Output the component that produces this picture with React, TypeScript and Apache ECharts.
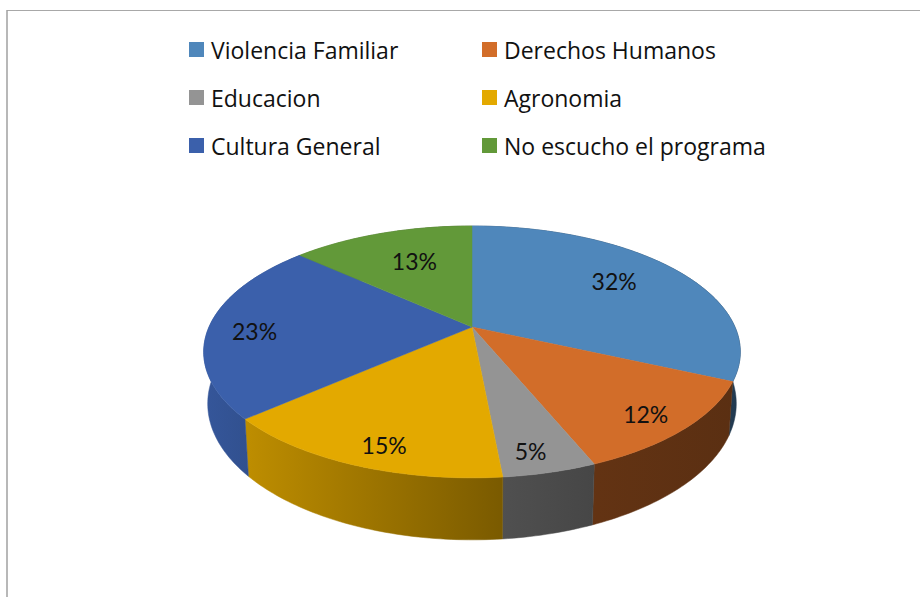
import React, { useEffect, useRef } from "react";
import * as echarts from "echarts";

const categories = ["Violencia Familiar", "Derechos Humanos", "Educacion", "Agronomia", "Cultura General", "No escucho el programa"];
const shares = [31.8, 12.0, 4.7, 15.0, 23.2, 13.3];
const labelTexts = ["32%", "12%", "5%", "15%", "23%", "13%"];
const colors = ["#4F87BB", "#D26D29", "#949494", "#E3A900", "#3B60AB", "#629939"];
const legendLeft = [categories[0], categories[2], categories[4]];
const legendRight = [categories[1], categories[3], categories[5]];

// chart geometry and styling (perspective projection of the pie disc)
const CX = 472, CY = 327, SX = 263, SY = 121, TILT = 0.198, DEPTH = 49.7, BASE_SCALE = 0.985;
const labelRadius = [0.714, 0.853, 0.872, 0.864, 0.822, 0.66];
const labelShift = [-2.3, 1.2, 1.6, -2.7, -2.7, 2.1];
const wallShade: [number, number][] = [[0, 0.9], [0.09, 0.83], [0.55, 0.54], [0.73, 0.47], [1, 0.43]];

const total = shares.reduce((a, b) => a + b, 0);
const starts = shares.map((_, i) => shares.slice(0, i).reduce((a, b) => a + b, 0));
const toDeg = (share: number) => (share / total) * 360;

function project(deg: number, r = 1): [number, number] {
  const t = (deg * Math.PI) / 180;
  const X = r * Math.sin(t), Y = -r * Math.cos(t);
  const d = 1 - TILT * Y;
  return [CX + (SX * X) / d, CY + (SY * Y) / d];
}
function projectBase(deg: number): [number, number] {
  const t = (deg * Math.PI) / 180;
  const Y = -Math.cos(t);
  const d = 1 - TILT * Y;
  const [x, y] = project(deg);
  return [CX + (x - CX) * BASE_SCALE, y + DEPTH / d];
}
function arc(fn: (d: number) => [number, number], a: number, b: number) {
  const n = Math.max(4, Math.ceil(b - a));
  const out: [number, number][] = [];
  for (let i = 0; i <= n; i++) out.push(fn(a + ((b - a) * i) / n));
  return out;
}
function shade(hex: string, f: number) {
  const n = parseInt(hex.slice(1), 16);
  const c = [(n >> 16) & 255, (n >> 8) & 255, n & 255].map((v) => Math.round(v * f));
  return `rgb(${c[0]},${c[1]},${c[2]})`;
}

export default function App() {
  const ref = useRef<HTMLDivElement>(null);
  useEffect(() => {
    document.body.style.margin = "0";
    const chart = echarts.init(ref.current!, undefined, { renderer: "svg" });
    const wallSeries = {
      type: "custom",
      name: "walls",
      coordinateSystem: "none",
      silent: true,
      z: 1,
      data: shares.map((v, i) => [i, v]),
      renderItem: (_: any, api: any) => {
        const i = api.value(0);
        const a = toDeg(starts[i]);
        const b = a + toDeg(api.value(1));
        const fill = new echarts.graphic.LinearGradient(
          204, 0, 741, 0,
          wallShade.map(([offset, f]) => ({ offset, color: shade(colors[i], f) })),
          true
        );
        const points = [...arc((d) => project(d), a, b), ...arc(projectBase, a, b).reverse()];
        return { type: "polygon", shape: { points }, style: { fill, stroke: fill, lineWidth: 0.5 } };
      },
    };
    const sliceSeries = categories.map((name, i) => ({
      type: "custom",
      name,
      coordinateSystem: "none",
      silent: true,
      z: 2,
      itemStyle: { color: colors[i] },
      data: [[i, shares[i]]],
      renderItem: (_: any, api: any) => {
        const k = api.value(0);
        const a = toDeg(starts[k]);
        const span = toDeg(api.value(1));
        const points = [[CX, CY], ...arc((d) => project(d), a, a + span)];
        const [lx, ly] = project(a + span / 2 + labelShift[k], labelRadius[k]);
        return {
          type: "group",
          children: [
            { type: "polygon", shape: { points }, style: { fill: colors[k], stroke: colors[k], lineWidth: 0.5 } },
            {
              type: "text",
              z2: 10,
              style: {
                text: labelTexts[k], x: lx, y: ly, align: "center", verticalAlign: "middle",
                font: '23px Lato', fill: "#111111",
              },
            },
          ],
        };
      },
    }));
    const legendBase = {
      orient: "vertical",
      top: 37.5,
      itemWidth: 15,
      itemHeight: 15,
      itemGap: 24,
      icon: "rect",
      selectedMode: false,
      padding: 0,
      textStyle: { fontFamily: "Open Sans", fontSize: 23, color: "#111111", padding: [0, 0, 0, 2], lineHeight: 24 },
    };
    chart.setOption({
      animation: false,
      backgroundColor: "#ffffff",
      legend: [
        { ...legendBase, left: 189, data: legendLeft },
        { ...legendBase, left: 482, data: legendRight },
      ],
      graphic: [
        { type: "line", shape: { x1: 7, y1: 10.5, x2: 920, y2: 10.5 }, style: { stroke: "#A8A8A8", lineWidth: 1 } },
        { type: "line", shape: { x1: 7, y1: 10, x2: 7, y2: 597 }, style: { stroke: "#A0A0A0", lineWidth: 1.5 } },
      ],
      series: [wallSeries, ...sliceSeries],
    });
    return () => chart.dispose();
  }, []);
  return <div ref={ref} style={{ position: "absolute", left: 0, top: 0, width: 920, height: 597 }} />;
}
